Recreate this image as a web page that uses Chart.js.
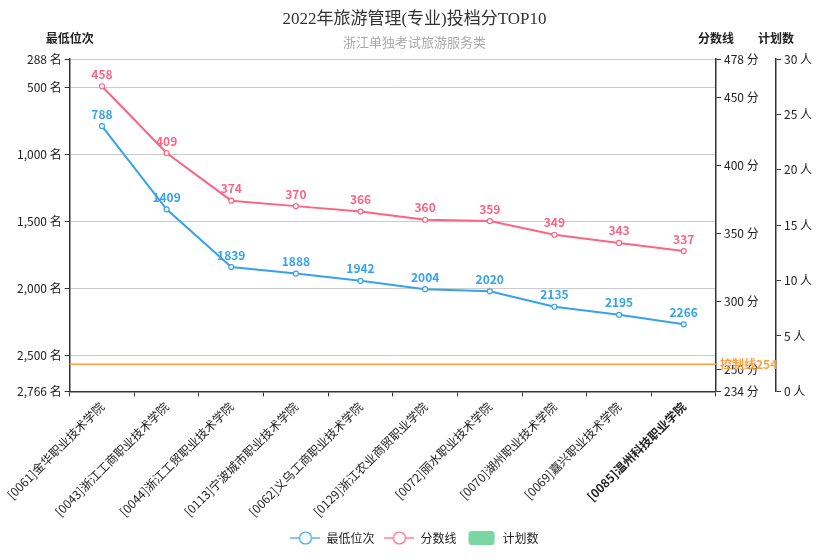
<!DOCTYPE html>
<html>
<head>
<meta charset="utf-8">
<script src="https://cdn.jsdelivr.net/npm/chart.js@4/dist/chart.umd.min.js"></script>
<style>
  html, body { margin: 0; padding: 0; background: #fff; }
  #wrap { width: 840px; height: 560px; }
</style>
</head>
<body>
<div id="wrap"><canvas id="chart" width="840" height="560"></canvas></div>
<script>
const FONT = '"Noto Sans CJK SC", "Noto Sans", sans-serif';

// data
const schools = [
    '[0061]金华职业技术学院', '[0043]浙江工商职业技术学院', '[0044]浙江工贸职业技术学院',
    '[0113]宁波城市职业技术学院', '[0062]义乌工商职业技术学院', '[0129]浙江农业商贸职业学院',
    '[0072]丽水职业技术学院', '[0070]湖州职业技术学院', '[0069]嘉兴职业技术学院',
    '[0085]温州科技职业学院'
];
const minRank = [788, 1409, 1839, 1888, 1942, 2004, 2020, 2135, 2195, 2266];
const scoreLine = [458, 409, 374, 370, 366, 360, 359, 349, 343, 337];
const planCounts = []; // no bars shown in the picture
const controlLine = 254;

const rankTicks = [288, 500, 1000, 1500, 2000, 2500, 2766];
const scoreTicks = [478, 450, 400, 350, 300, 250, 234];
const planTicks = [0, 5, 10, 15, 20, 25, 30];

const BLUE = 'rgb(54, 162, 235)';
const PINK = 'rgb(255, 99, 132)';
const GREEN = 'rgb(122, 215, 162)';
const ORANGE = 'rgb(255, 159, 64)';
const TEXT = '#222';

function legendIcon(color, isLine) {
    const c = document.createElement('canvas');
    c.width = 30; c.height = 16;
    const g = c.getContext('2d');
    if (isLine) {
        g.strokeStyle = color;
        g.lineWidth = 1.2;
        g.beginPath(); g.moveTo(0, 8); g.lineTo(30, 8); g.stroke();
        g.fillStyle = '#fff';
        g.beginPath(); g.arc(15, 8, 6, 0, Math.PI * 2); g.fill(); g.stroke();
    } else {
        g.fillStyle = color;
        g.beginPath(); g.roundRect(2, 1, 26, 14, 3); g.fill();
    }
    return c;
}

// values above points
const pointLabels = {
    id: 'pointLabels',
    afterDatasetsDraw(chart) {
        const ctx = chart.ctx;
        ctx.save();
        ctx.font = 'bold 12px ' + FONT;
        ctx.textAlign = 'center';
        ctx.textBaseline = 'bottom';
        chart.data.datasets.forEach((ds, i) => {
            if (ds.type !== 'line') return;
            const meta = chart.getDatasetMeta(i);
            ctx.fillStyle = ds.borderColor;
            meta.data.forEach((pt, j) => {
                ctx.fillText(ds.data[j], pt.x, pt.y - 6);
            });
        });
        ctx.restore();
    }
};

// control line + axis titles on top
const extras = {
    id: 'extras',
    afterDraw(chart) {
        const ctx = chart.ctx;
        const area = chart.chartArea;
        const ys = chart.scales.yScore;
        const y = ys.getPixelForValue(controlLine);
        ctx.save();
        ctx.strokeStyle = ORANGE;
        ctx.lineWidth = 1.5;
        ctx.beginPath(); ctx.moveTo(area.left, y); ctx.lineTo(area.right, y); ctx.stroke();
        ctx.fillStyle = ORANGE;
        ctx.font = 'bold 12px ' + FONT;
        ctx.textAlign = 'left';
        ctx.textBaseline = 'middle';
        ctx.fillText('控制线' + controlLine, area.right + 4, y);

        ctx.fillStyle = TEXT;
        ctx.font = 'bold 12px ' + FONT;
        ctx.textAlign = 'center';
        ctx.textBaseline = 'middle';
        ctx.fillText('最低位次', chart.scales.yRank.right, 38);
        ctx.fillText('分数线', ys.left, 38);
        ctx.fillText('计划数', chart.scales.yPlan.left, 38);
        ctx.restore();
    }
};

function fixedTicks(list) {
    return scale => { scale.ticks = list.map(v => ({value: v})); };
}

const tickFont = {family: FONT, size: 12};

const ctx = document.getElementById('chart');
const chart = new Chart(ctx, {
    data: {
        labels: schools,
        datasets: [{
            type: 'line',
            label: '最低位次',
            data: minRank,
            yAxisID: 'yRank',
            borderColor: BLUE,
            backgroundColor: '#fff',
            borderWidth: 2,
            pointRadius: 2.5,
            pointBorderWidth: 1.2,
            tension: 0
        }, {
            type: 'line',
            label: '分数线',
            data: scoreLine,
            yAxisID: 'yScore',
            borderColor: PINK,
            backgroundColor: '#fff',
            borderWidth: 2,
            pointRadius: 2.5,
            pointBorderWidth: 1.2,
            tension: 0
        }, {
            type: 'bar',
            label: '计划数',
            data: planCounts,
            yAxisID: 'yPlan',
            backgroundColor: GREEN
        }]
    },
    options: {
        responsive: false,
        animation: false,
        layout: {padding: {left: 14, right: 25, top: 0, bottom: 6}},
        plugins: {
            title: {
                display: true,
                text: '2022年旅游管理(专业)投档分TOP10',
                color: '#333',
                font: {family: '"Liberation Serif", ' + FONT, size: 17, weight: 'normal'},
                padding: {top: 9, bottom: 5}
            },
            subtitle: {
                display: true,
                text: '浙江单独考试旅游服务类',
                color: '#aaa',
                font: {family: FONT, size: 13},
                padding: {bottom: 9}
            },
            legend: {
                position: 'bottom',
                labels: {
                    usePointStyle: true,
                    pointStyleWidth: 30,
                    color: TEXT,
                    font: {family: FONT, size: 12},
                    padding: 10,
                    generateLabels(chart) {
                        return chart.data.datasets.map((ds, i) => ({
                            text: ds.label,
                            datasetIndex: i,
                            fontColor: TEXT,
                            hidden: false,
                            lineWidth: 0,
                            pointStyle: legendIcon(ds.type === 'line' ? ds.borderColor : ds.backgroundColor, ds.type === 'line')
                        }));
                    }
                }
            },
            tooltip: {enabled: false}
        },
        scales: {
            x: {
                offset: true,
                grid: {offset: true, drawOnChartArea: false, color: '#333', tickLength: 5},
                border: {color: '#333', width: 1.5},
                ticks: {
                    color: TEXT,
                    maxRotation: 45,
                    minRotation: 45,
                    autoSkip: false,
                    font: c => ({family: FONT, size: 12, weight: c.index === 9 ? 'bold' : 'normal'})
                }
            },
            yRank: {
                position: 'left',
                reverse: true,
                min: 288,
                max: 2766,
                afterBuildTicks: fixedTicks(rankTicks),
                grid: {color: '#ccc', tickLength: 5, tickColor: '#333'},
                border: {color: '#333', width: 1.5},
                ticks: {
                    color: TEXT,
                    font: tickFont,
                    padding: 3,
                    callback: v => v.toLocaleString('en-US') + ' 名'
                }
            },
            yScore: {
                position: 'right',
                min: 234,
                max: 478,
                afterBuildTicks: fixedTicks(scoreTicks),
                afterFit: scale => { scale.width = 60; },
                grid: {drawOnChartArea: false, color: '#333', tickLength: 5},
                border: {color: '#333', width: 1.5},
                ticks: {
                    color: TEXT,
                    font: tickFont,
                    padding: 3,
                    callback: v => v + ' 分'
                }
            },
            yPlan: {
                position: 'right',
                min: 0,
                max: 30,
                afterBuildTicks: fixedTicks(planTicks),
                grid: {drawOnChartArea: false, color: '#333', tickLength: 5},
                border: {color: '#333', width: 1.5},
                ticks: {
                    color: TEXT,
                    font: tickFont,
                    padding: 3,
                    callback: v => v + ' 人'
                }
            }
        }
    },
    plugins: [pointLabels, extras]
});
</script>
</body>
</html>
